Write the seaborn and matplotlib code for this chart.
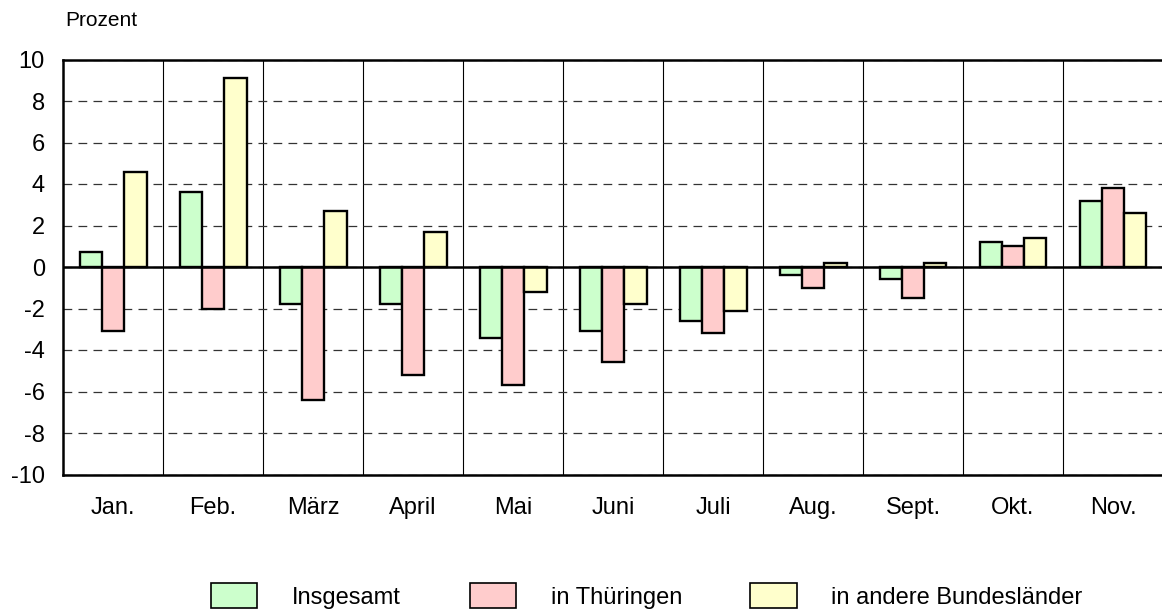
import numpy as np
import pandas as pd
import matplotlib
matplotlib.use('Agg')
import matplotlib.pyplot as plt
import seaborn as sns

sns.set_theme(style='white')
plt.rcParams['font.family'] = ['Liberation Sans', 'DejaVu Sans']
plt.rcParams['axes.unicode_minus'] = False
plt.rcParams['text.color'] = 'black'

# Veränderung gegenüber Vorjahresmonat in Prozent
monate = ['Jan.', 'Feb.', 'März', 'April', 'Mai', 'Juni', 'Juli', 'Aug.', 'Sept.', 'Okt.', 'Nov.']
insgesamt = [0.7, 3.6, -1.8, -1.8, -3.4, -3.1, -2.6, -0.4, -0.6, 1.2, 3.2]
thueringen = [-3.1, -2.0, -6.4, -5.2, -5.7, -4.6, -3.2, -1.0, -1.5, 1.0, 3.8]
andere = [4.6, 9.1, 2.7, 1.7, -1.2, -1.8, -2.1, 0.2, 0.2, 1.4, 2.6]
reihen = ['Insgesamt', 'in Thüringen', 'in andere Bundesländer']
farben = ['#CCFFCC', '#FFCCCC', '#FFFFCC']

df = pd.DataFrame({
    'Monat': monate * 3,
    'Reihe': [reihen[0]] * 11 + [reihen[1]] * 11 + [reihen[2]] * 11,
    'Wert': insgesamt + thueringen + andere,
})

fig = plt.figure(figsize=(11.62, 6.12), dpi=100)
ax = fig.add_axes([63 / 1162, 1 - 474.5 / 612, 1100 / 1162, 415 / 612])

sns.barplot(
    data=df, x='Monat', y='Wert', hue='Reihe', order=monate, hue_order=reihen,
    palette=farben, edgecolor='black', linewidth=1.7, width=0.67, gap=0,
    errorbar=None, saturation=1, ax=ax, zorder=3
)

ax.set_xlim(-0.5, 10.5)
ax.set_ylim(-10, 10)
ax.set_yticks(np.arange(-10, 11, 2))
ax.set_xlabel('')
ax.set_ylabel('')

# Gitter
ax.set_axisbelow(True)
ax.set_xticks(np.arange(0.5, 10.5, 1), minor=True)
ax.grid(axis='x', which='minor', color='black', linewidth=0.8)
ax.grid(axis='x', which='major', visible=False)
ax.grid(axis='y', which='major', color='#333333', linewidth=0.9, linestyle=(0, (7, 5)))
ax.axhline(0, color='black', linewidth=1.8, zorder=4)

for s in ['top', 'left', 'bottom']:
    ax.spines[s].set_visible(True)
    ax.spines[s].set_color('black')
    ax.spines[s].set_linewidth(1.8)
ax.spines['right'].set_visible(False)

ax.tick_params(axis='both', which='both', length=0, labelsize=17, colors='black')
ax.tick_params(axis='y', pad=13)
ax.tick_params(axis='x', pad=16)

fig.text(65 / 1162, 1 - 20 / 612, 'Prozent', ha='left', va='center', fontsize=15, color='black')

ax.legend_.remove()
handles = [plt.Rectangle((0, 0), 1, 1, facecolor=c, edgecolor='black', linewidth=1.2) for c in farben]
fig.legend(handles, reihen, loc='center', bbox_to_anchor=(647 / 1162, 1 - 596 / 612),
           ncol=3, frameon=False, fontsize=17, handlelength=1.95, handleheight=1.27,
           handletextpad=1.48, columnspacing=2.9, labelcolor='black')

fig.savefig('out.png', dpi=100)
